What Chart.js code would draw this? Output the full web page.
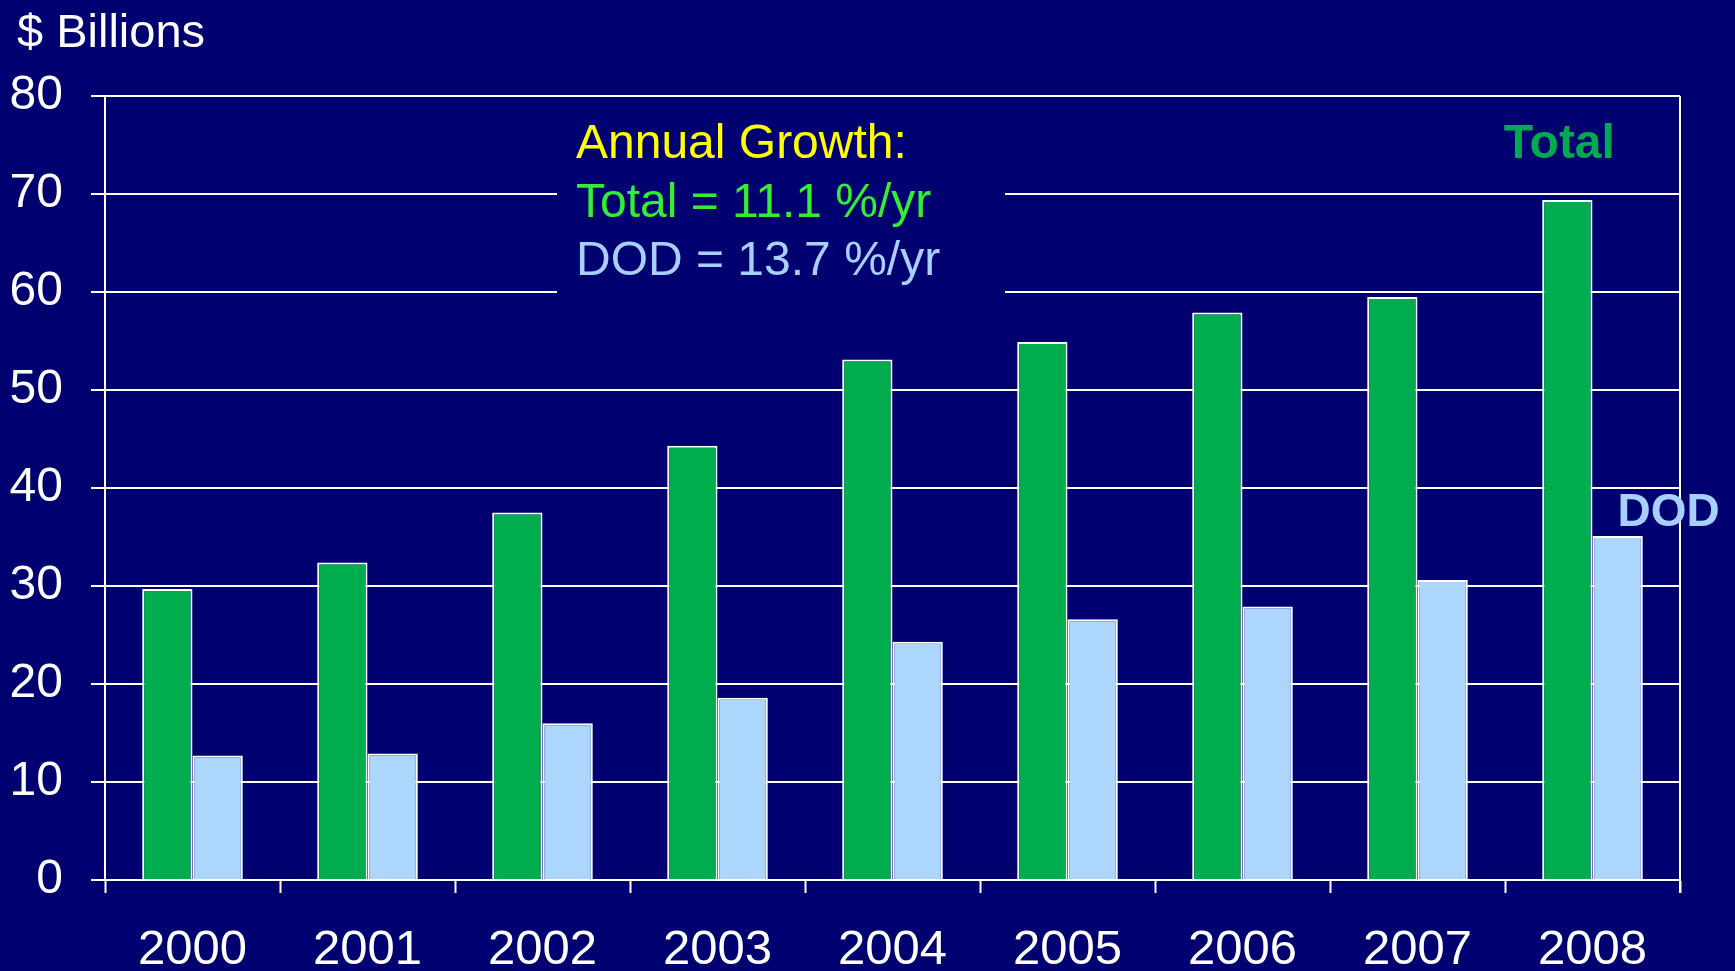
<!DOCTYPE html>
<html>
<head>
<meta charset="utf-8">
<script src="https://cdn.jsdelivr.net/npm/chart.js@4"></script>
<style>
  html, body { margin: 0; padding: 0; background: #000070; }
  #wrap { width: 1735px; height: 971px; position: relative; }
</style>
</head>
<body>
<div id="wrap"><canvas id="chart"></canvas></div>
<script>
const years = ["2000", "2001", "2002", "2003", "2004", "2005", "2006", "2007", "2008"];
const totalVals = [29.7, 32.4, 37.5, 44.3, 53.1, 54.9, 57.9, 59.5, 69.4];
const dodVals = [12.7, 12.9, 16.0, 18.6, 24.3, 26.6, 27.9, 30.6, 35.1];
const growthLines = ["Annual Growth:", "Total = 11.1 %/yr", "DOD = 13.7 %/yr"];
const unitLabel = "$ Billions";

const NAVY = "#000070";
const FONT = "'Liberation Sans', Arial, sans-serif";

// right frame line + text box + series labels
const extras = {
  id: "extras",
  beforeDatasetsDraw(chart) {
    const { ctx, chartArea: a } = chart;
    ctx.save();
    // right border of the plot
    ctx.strokeStyle = "#ffffff";
    ctx.lineWidth = 2;
    ctx.beginPath();
    ctx.moveTo(a.right, a.top);
    ctx.lineTo(a.right, a.bottom + 13);
    ctx.stroke();
    // box behind the growth text hides the grid
    ctx.fillStyle = NAVY;
    ctx.fillRect(557, a.top + 24, 448, 180);
    ctx.restore();
  },
  afterDraw(chart) {
    const { ctx } = chart;
    ctx.save();
    ctx.textBaseline = "middle";
    ctx.textAlign = "left";
    // unit label top-left
    ctx.font = "47px " + FONT;
    ctx.fillStyle = "#ffffff";
    ctx.fillText(unitLabel, 17, 34);
    ctx.font = "48px " + FONT;
    const cols = ["#ffff00", "#33ee33", "#a8d0ff"];
    growthLines.forEach((t, i) => {
      ctx.fillStyle = cols[i];
      ctx.fillText(t, 576, 145 + i * 58.5);
    });
    // series labels next to the 2008 bars
    const last = years.length - 1;
    const gBar = chart.getDatasetMeta(0).data[last];
    const bBar = chart.getDatasetMeta(1).data[last];
    ctx.textAlign = "center";
    ctx.font = "bold 48px " + FONT;
    ctx.fillStyle = "#00aa50";
    ctx.fillText("Total", gBar.x - 8, gBar.y - 55);
    ctx.font = "bold 46px " + FONT;
    ctx.fillStyle = "#a8d0ff";
    ctx.fillText("DOD", bBar.x + 51, bBar.y - 23);
    ctx.restore();
  }
};

new Chart(document.getElementById("chart"), {
  type: "bar",
  data: {
    labels: years,
    datasets: [
      {
        label: "Total",
        data: totalVals,
        backgroundColor: "#00ad4e",
        borderColor: "#ffffff",
        borderWidth: 2,
        categoryPercentage: 0.575,
        barPercentage: 1.0
      },
      {
        label: "DOD",
        data: dodVals,
        backgroundColor: "#acd6fc",
        borderColor: "#ffffff",
        borderWidth: 2,
        categoryPercentage: 0.575,
        barPercentage: 1.0
      }
    ]
  },
  options: {
    responsive: true,
    maintainAspectRatio: false,
    animation: false,
    layout: { padding: { left: 0, right: 55, top: 96, bottom: 0 } },
    plugins: {
      legend: { display: false },
      tooltip: { enabled: false },
      title: { display: false }
    },
    scales: {
      x: {
        afterFit(scale) { scale.height = 91; },
        grid: {
          display: true,
          drawOnChartArea: false,
          drawTicks: true,
          tickLength: 13,
          tickWidth: 2,
          color: "#ffffff",
          offset: true
        },
        border: { display: true, color: "#ffffff", width: 2 },
        ticks: {
          color: "#ffffff",
          padding: 33,
          font: { family: FONT, size: 49, lineHeight: 1 },
          maxRotation: 0
        }
      },
      y: {
        min: 0,
        max: 80,
        afterFit(scale) { scale.width = 105; },
        grid: {
          color: "#ffffff",
          lineWidth: 2,
          drawTicks: true,
          tickLength: 14
        },
        border: { display: true, color: "#ffffff", width: 2 },
        ticks: {
          stepSize: 10,
          color: "#ffffff",
          padding: 28,
          font: { family: FONT, size: 48, lineHeight: 1.2 }
        }
      }
    }
  },
  plugins: [extras]
});
</script>
</body>
</html>
